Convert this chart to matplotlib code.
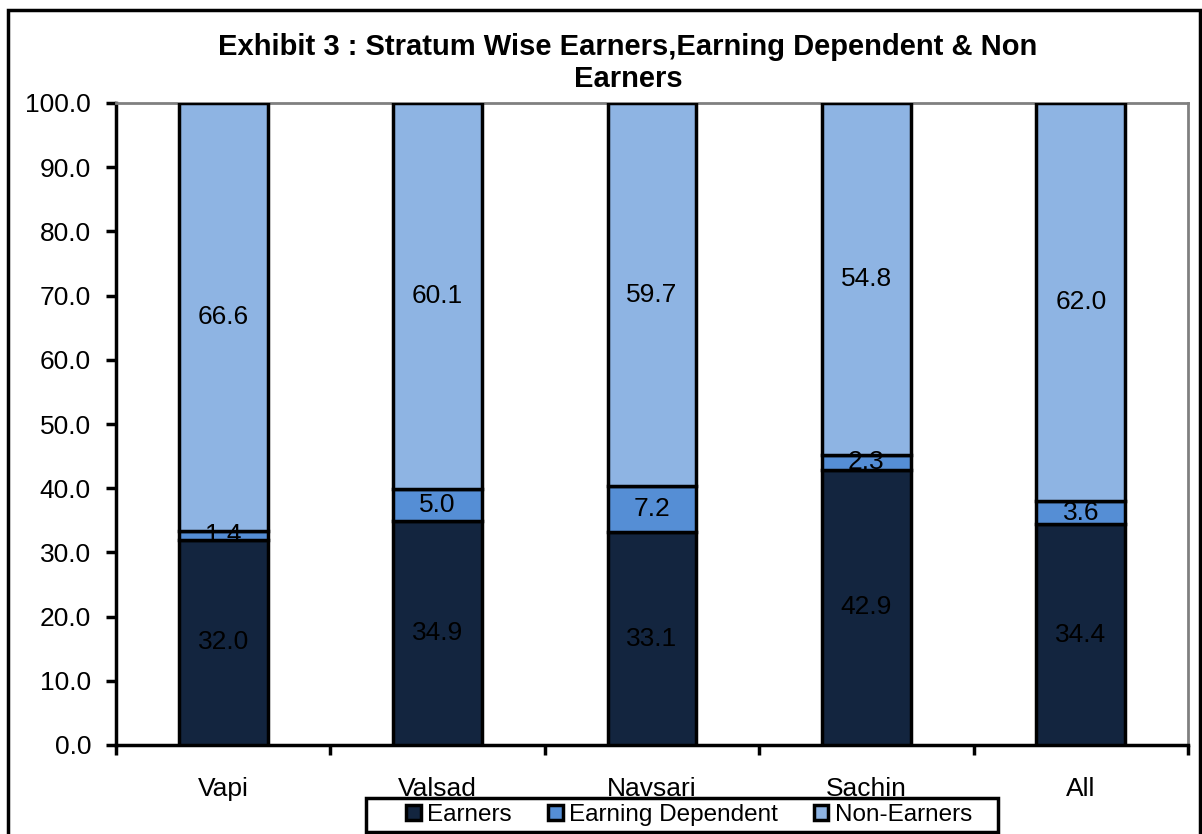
import numpy as np
import matplotlib.pyplot as plt
from matplotlib.patches import Rectangle

plt.rcParams['font.family'] = ['Liberation Sans', 'DejaVu Sans']

categories = ['Vapi', 'Valsad', 'Navsari', 'Sachin', 'All']
earners = [32.0, 34.9, 33.1, 42.9, 34.4]
earning_dependent = [1.4, 5.0, 7.2, 2.3, 3.6]
non_earners = [66.6, 60.1, 59.7, 54.8, 62.0]
series_names = ['Earners', 'Earning Dependent', 'Non-Earners']
colors = ['#13253F', '#558ED5', '#8EB4E3']

W, H = 1202, 834
fig = plt.figure(figsize=(W / 100, H / 100), dpi=100)
ax = fig.add_axes([116 / W, 1 - 745 / H, (1188 - 116) / W, (745 - 103) / H])

x = np.arange(len(categories))
bottom = np.zeros(len(categories))
handles = []
for vals, name, col in zip([earners, earning_dependent, non_earners], series_names, colors):
    vals = np.array(vals)
    bars = ax.bar(x, vals, 0.415, bottom=bottom, color=col, edgecolor='black',
                  linewidth=2.5, label=name, zorder=3)
    handles.append(bars)
    for xi, v, b in zip(x, vals, bottom):
        ax.text(xi, b + v / 2, f'{v:.1f}', ha='center', va='center', fontsize=19,
                color='black', zorder=4)
    bottom += vals

ax.set_xlim(-0.5, 4.5)
ax.set_ylim(0, 100)
ax.set_yticks(np.arange(0, 101, 10))
ax.set_yticklabels([f'{v:.1f}' for v in np.arange(0, 101, 10)], fontsize=19)
ax.set_xticks(x)
ax.set_xticklabels(categories, fontsize=19)
ax.set_xticks(np.arange(-0.5, 4.6, 1), minor=True)
ax.tick_params(axis='x', which='major', length=0, pad=23)
ax.tick_params(axis='x', which='minor', length=7, width=2.5, direction='out')
ax.tick_params(axis='y', length=7, width=2.5, direction='out', pad=11)

for s in ['left', 'bottom']:
    ax.spines[s].set_linewidth(2.5)
    ax.spines[s].set_color('black')
for s in ['top', 'right']:
    ax.spines[s].set_linewidth(2)
    ax.spines[s].set_color('#808080')

fig.text(628 / W, 1 - 63 / H, 'Exhibit 3 : Stratum Wise Earners,Earning Dependent & Non\nEarners',
         ha='center', va='center', fontsize=21, fontweight='bold', linespacing=1.2)

leg = fig.legend(handles=handles, labels=series_names, loc='center',
                 bbox_to_anchor=(689 / W, 1 - 815 / H), ncol=3, fontsize=17.5,
                 frameon=False, handlelength=0.6, handleheight=0.6, handletextpad=0.25,
                 columnspacing=1.5, borderpad=0.1)

fig.patches.append(Rectangle((366 / W, 1 - 832 / H), 632 / W, 34 / H,
                             transform=fig.transFigure, facecolor='white',
                             edgecolor='black', linewidth=2.5, zorder=2))
fig.patches.append(Rectangle((8 / W, -0.05), 1192 / W, 1.05 - 10 / H,
                             transform=fig.transFigure, fill=False, edgecolor='black',
                             linewidth=2.5))

fig.savefig('out.png', dpi=100)
